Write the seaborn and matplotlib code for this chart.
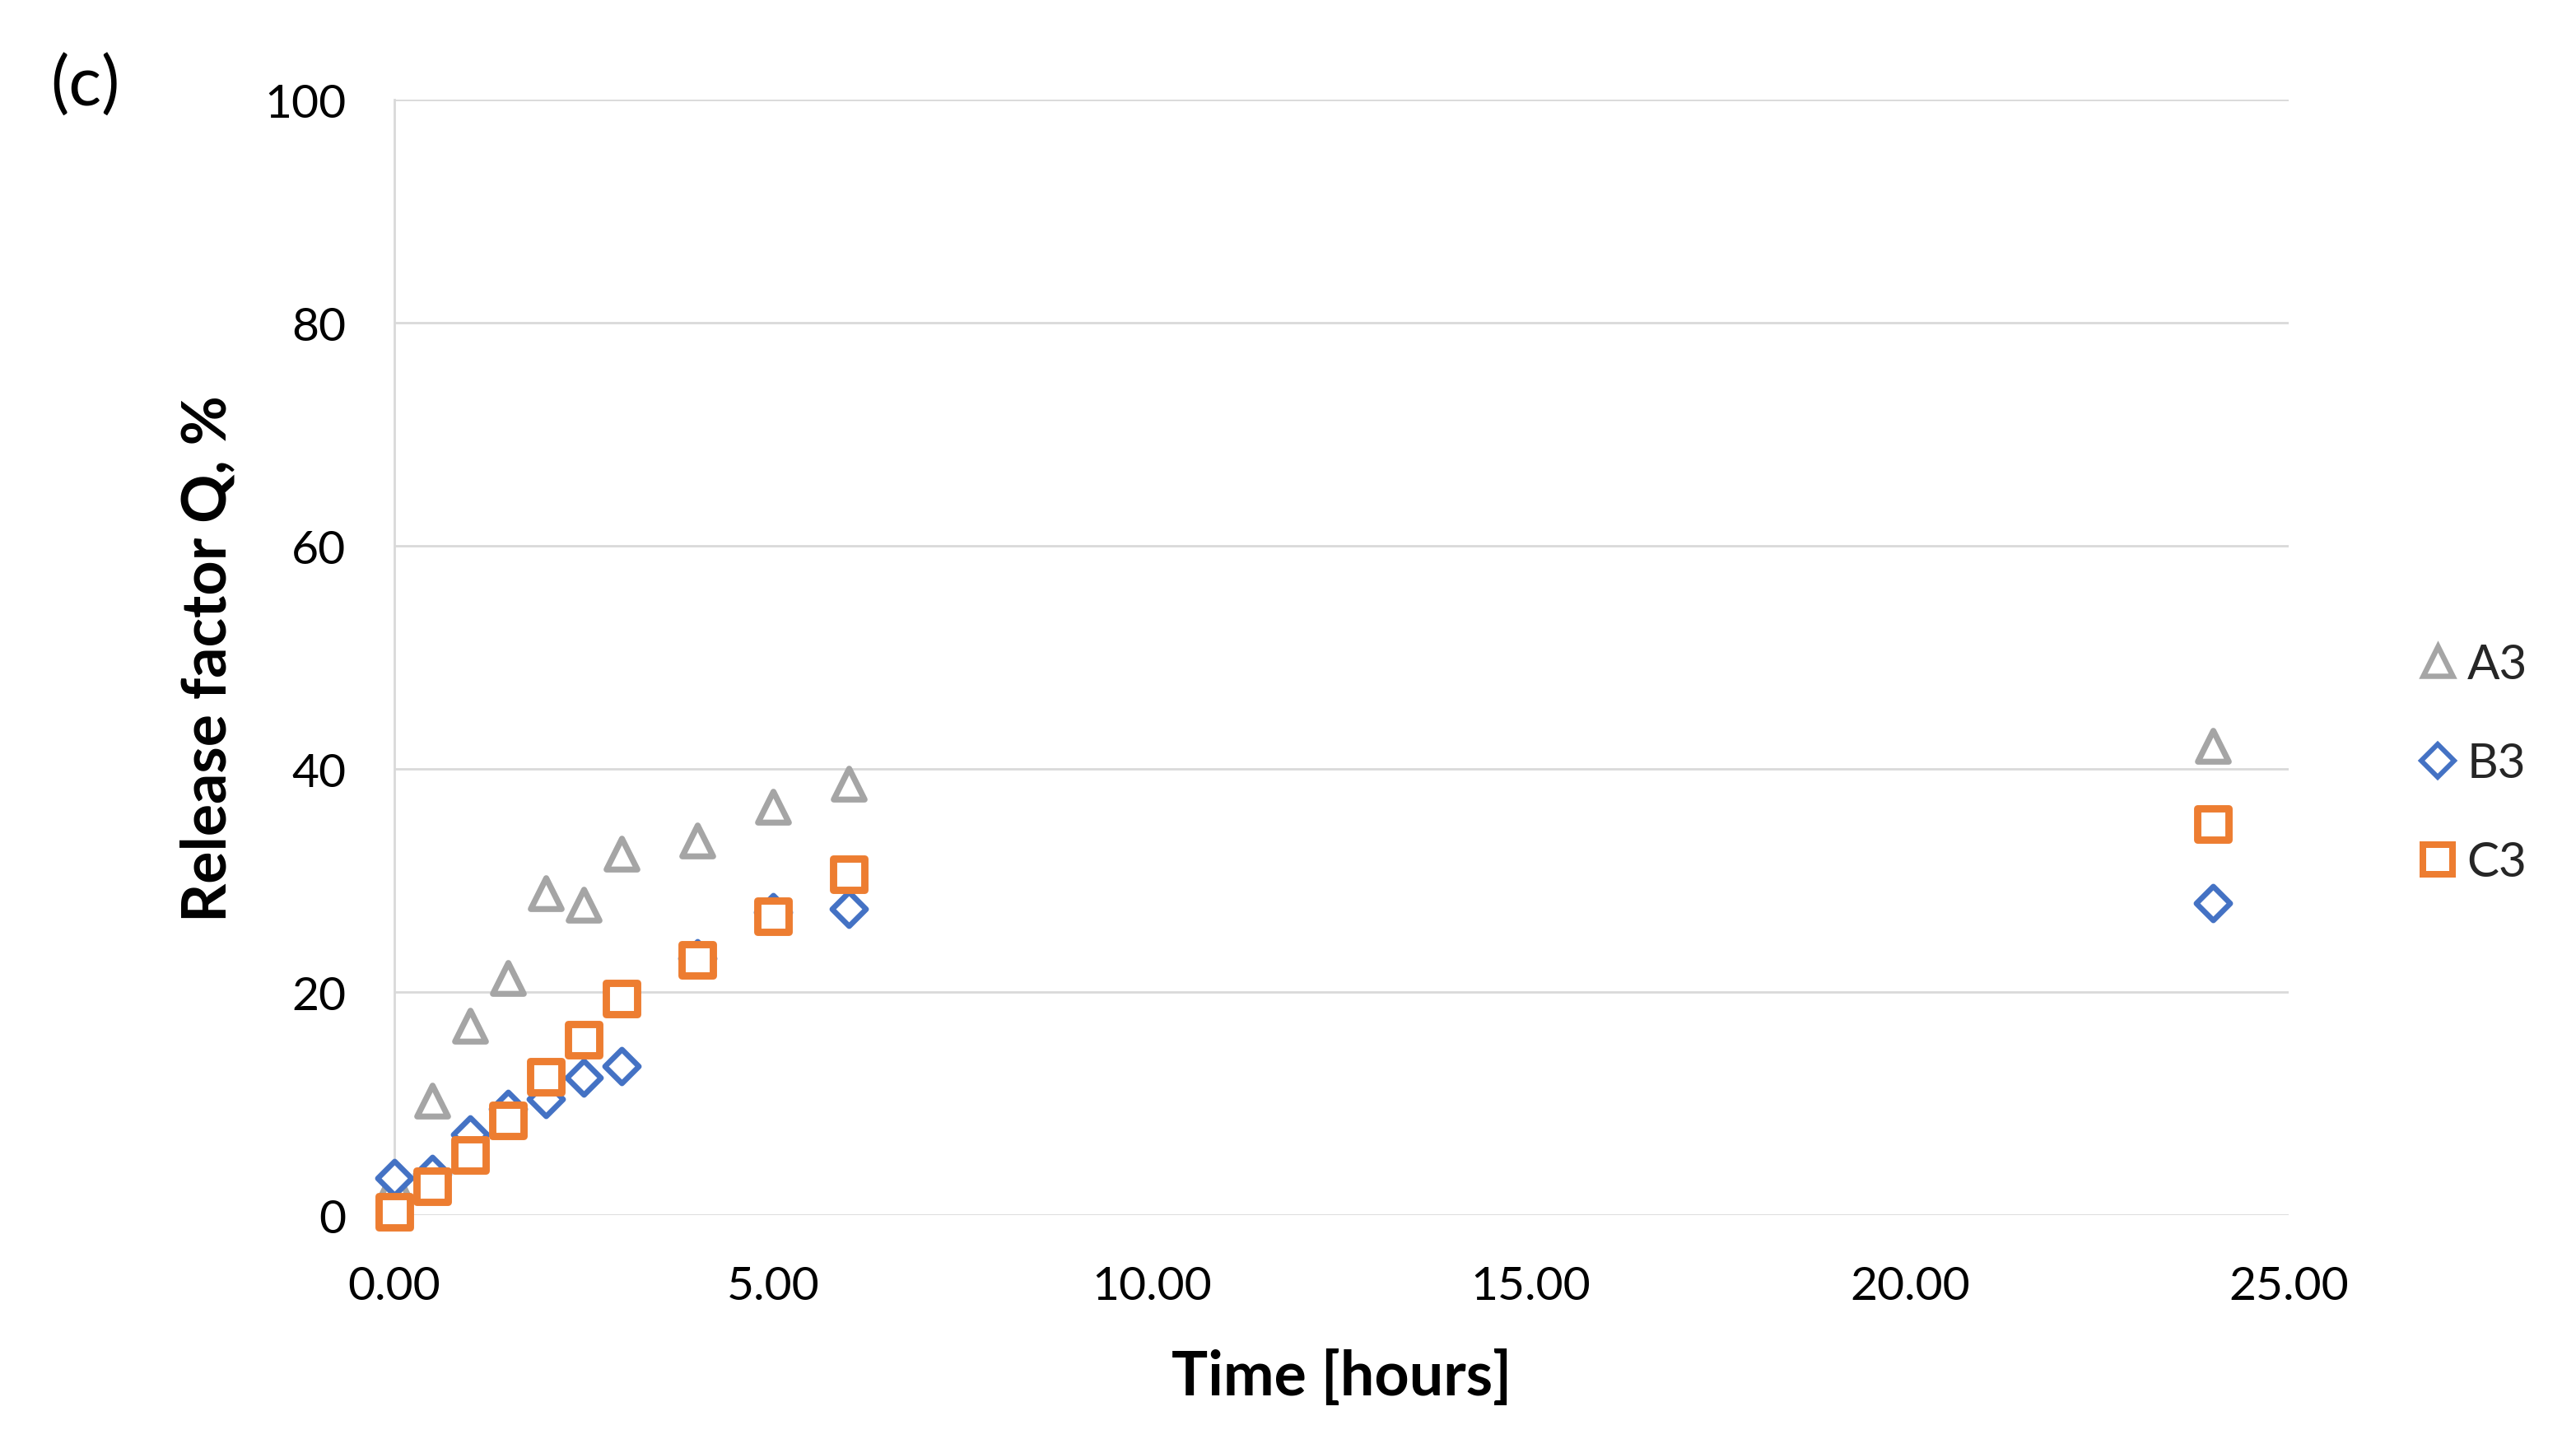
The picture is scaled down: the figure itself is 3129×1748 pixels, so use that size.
import matplotlib
matplotlib.use("Agg")
import matplotlib.pyplot as plt
import seaborn as sns
import pandas as pd
from matplotlib.lines import Line2D

# ---- data ----
time_h = [0, 0.5, 1, 1.5, 2, 2.5, 3, 4, 5, 6, 24]
a3 = [2.8, 10.3, 17.0, 21.3, 28.9, 27.8, 32.4, 33.6, 36.6, 38.7, 42.1]
b3 = [3.3, 3.7, 7.2, 9.5, 10.4, 12.3, 13.4, 23.0, 27.2, 27.5, 28.0]
c3 = [0.3, 2.6, 5.4, 8.5, 12.4, 15.7, 19.4, 22.9, 26.8, 30.6, 35.1]
series_names = ["A3", "B3", "C3"]
x_ticks = [0, 5, 10, 15, 20, 25]
x_tick_labels = ["0.00", "5.00", "10.00", "15.00", "20.00", "25.00"]
y_ticks = [0, 20, 40, 60, 80, 100]

df = pd.DataFrame({
    "Time": time_h * 3,
    "Q": a3 + b3 + c3,
    "Series": sum([[n] * len(time_h) for n in series_names], []),
})

sns.set_theme(style="white")
plt.rcParams["font.family"] = ["Lato", "DejaVu Sans"]

colors = {"A3": "#a5a5a5", "B3": "#4472c4", "C3": "#ed7d31"}
markers = {"A3": "^", "B3": "D", "C3": "s"}
msize = {"A3": 13.5, "B3": 10.5, "C3": 13.5}
mlw = {"A3": 2.6, "B3": 2.4, "C3": 3.2}

fig = plt.figure(figsize=(3129 / 200, 1749 / 200), dpi=200)
ax = fig.add_axes([0.153, 0.1555, 0.7355, 0.7745])

for name in series_names:
    sub = df[df["Series"] == name]
    sns.scatterplot(data=sub, x="Time", y="Q", ax=ax, marker=markers[name],
                    s=msize[name] ** 2, facecolor="white",
                    edgecolor=colors[name], linewidth=mlw[name],
                    legend=False, zorder=3, clip_on=False)

ax.set_xlim(0, 25)
ax.set_ylim(0, 100)
ax.set_xticks(x_ticks)
ax.set_xticklabels(x_tick_labels)
ax.set_yticks(y_ticks)
ax.tick_params(axis="both", labelsize=20.5, length=0, colors="#000000")
ax.tick_params(axis="x", pad=22)
ax.tick_params(axis="y", pad=21)

ax.grid(axis="y", color="#d9d9d9", linewidth=1.0)
ax.set_axisbelow(True)
for sp in ["top", "right", "bottom"]:
    ax.spines[sp].set_visible(False)
ax.spines["left"].set_color("#d9d9d9")
ax.spines["left"].set_linewidth(1.0)

ax.set_xlabel("Time [hours]", fontsize=26.5, fontweight="bold", color="#000000")
ax.xaxis.set_label_coords(0.5, -0.145)
ax.xaxis.label.set_va("center")
ax.set_ylabel("Release factor Q, %", fontsize=26.5, fontweight="bold", color="#000000")
ax.yaxis.set_label_coords(-0.098, 0.5)
ax.yaxis.label.set_va("center")

handles = [Line2D([], [], linestyle="", marker=markers[n], markersize=msize[n] * 0.95,
                  markerfacecolor="white", markeredgecolor=colors[n],
                  markeredgewidth=mlw[n] * 0.9, label=n) for n in series_names]
leg = ax.legend(handles=handles, loc="center left", bbox_to_anchor=(1.061, 0.405),
                frameon=False, fontsize=21, handlelength=0.6, handletextpad=0.3,
                labelspacing=1.15, borderaxespad=0)

fig.text(0.033, 0.94, "(c)", fontsize=30, ha="center", va="center", color="#000000")

fig.savefig("out.png", dpi=200, facecolor="white")
